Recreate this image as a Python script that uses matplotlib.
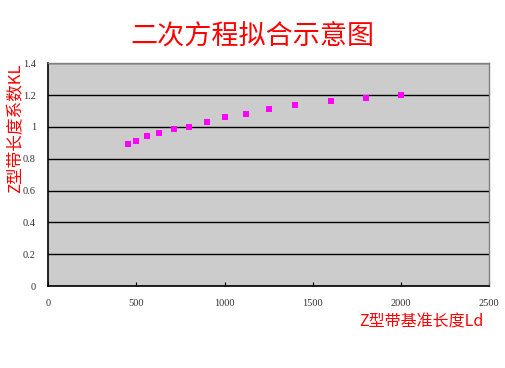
import matplotlib
matplotlib.use("Agg")
import matplotlib.pyplot as plt

lengths = [450, 500, 560, 630, 710, 800, 900, 1000, 1120, 1250, 1400, 1600, 1800, 2000]
kl = [0.89, 0.91, 0.94, 0.96, 0.99, 1.00, 1.03, 1.06, 1.08, 1.11, 1.14, 1.16, 1.18, 1.20]
xticks = [0, 500, 1000, 1500, 2000, 2500]
yticks = [0, 0.2, 0.4, 0.6, 0.8, 1, 1.2, 1.4]
title = "二次方程拟合示意图"
xlabel = "Z型带基准长度Ld"
ylabel = "Z型带长度系数KL"

cjk = ["Noto Sans CJK SC", "DejaVu Sans"]
W, H = 506, 368
fig = plt.figure(figsize=(W / 100, H / 100), dpi=100)
l, r, t, b = 48.3, 489.3, 63.3, 286.0
ax = fig.add_axes([l / W, 1 - b / H, (r - l) / W, (b - t) / H])
ax.set_facecolor("#CCCCCC")
ax.set_xlim(0, 2500)
ax.set_ylim(0, 1.4)
ax.set_xticks(xticks)
ax.set_yticks(yticks)
ax.set_xticklabels([str(v) for v in xticks])
ax.set_yticklabels(["0", "0.2", "0.4", "0.6", "0.8", "1", "1.2", "1.4"])
ax.grid(axis="y", color="black", linewidth=1.0)
ax.set_axisbelow(True)
for s in ["top", "right"]:
    ax.spines[s].set_color("#808080")
    ax.spines[s].set_linewidth(1.0)
for s in ["left", "bottom"]:
    ax.spines[s].set_color("black")
    ax.spines[s].set_linewidth(1.2)
ax.tick_params(axis="x", direction="in", length=3, labelsize=7.5, pad=9, colors="black")
ax.tick_params(axis="y", direction="out", length=0, labelsize=7.5, pad=9, colors="black")
for lab in ax.get_xticklabels() + ax.get_yticklabels():
    lab.set_fontfamily("Liberation Serif")
    lab.set_color("#333333")

ax.scatter(lengths, kl, s=16, marker="s", color="#FF00FF", zorder=3, linewidths=0)

fig.text(252 / W, 1 - 37 / H, title, ha="center", va="center", fontsize=19.5, color="red", family=cjk)
fig.text(421 / W, 1 - 322 / H, xlabel, ha="center", va="center", fontsize=11.5, color="red", family=cjk)
fig.text(15 / W, 1 - 128 / H, ylabel, ha="center", va="center", fontsize=12, color="red", rotation=90, family=cjk)

fig.savefig("out.png", dpi=100, facecolor="white")
